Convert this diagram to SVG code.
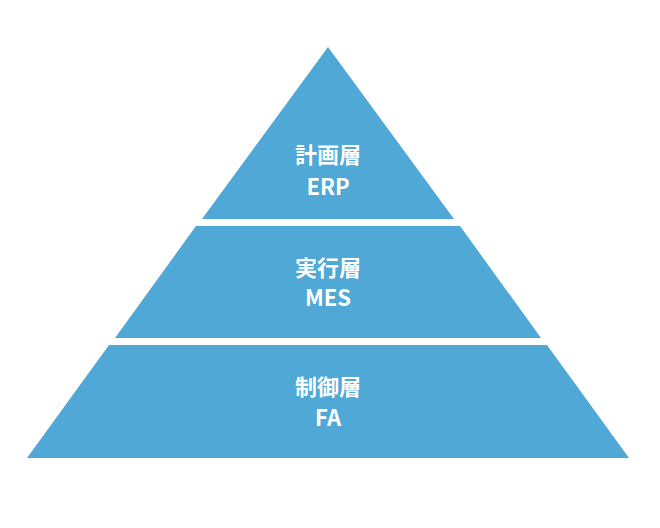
<svg xmlns="http://www.w3.org/2000/svg" width="660" height="528" viewBox="0 0 660 528">
<style>
.tier{fill:#4FA8D5;}
.lbl{fill:#ffffff;font-family:"Noto Sans CJK JP","Noto Sans",sans-serif;font-weight:bold;font-size:22px;text-anchor:middle;}
</style>
<rect width="660" height="528" fill="#ffffff"/>
<g id="erp">
<polygon class="tier" points="328,47 454,219 202,219"/>
<text class="lbl" x="328" y="163">計画層</text>
<text class="lbl" x="328" y="195">ERP</text>
</g>
<g id="mes">
<polygon class="tier" points="196,226 460,226 541,338 115,338"/>
<text class="lbl" x="328" y="276">実行層</text>
<text class="lbl" x="328" y="306">MES</text>
</g>
<g id="fa">
<polygon class="tier" points="109,345 547,345 629,458 27,458"/>
<text class="lbl" x="328" y="395">制御層</text>
<text class="lbl" x="328" y="426">FA</text>
</g>
<g id="connectors"></g>
</svg>
